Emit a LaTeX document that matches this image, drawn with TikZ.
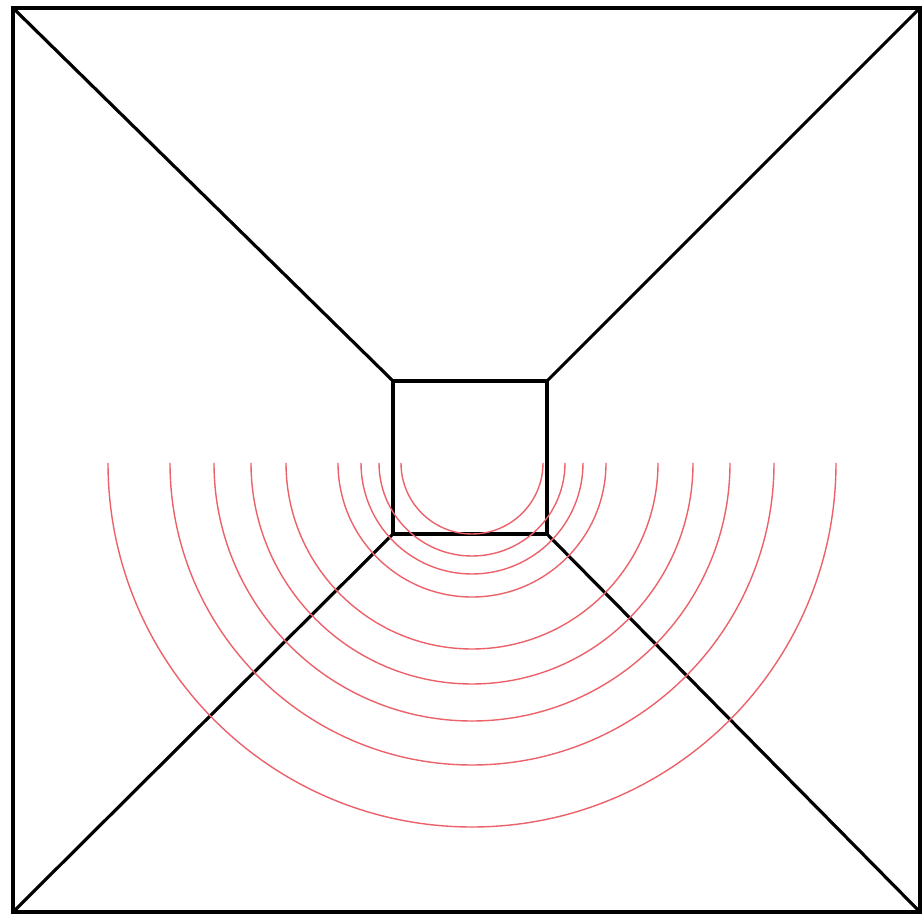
\documentclass[tikz,border=0pt]{standalone}
\usepackage{tikz}
\definecolor{waveRed}{RGB}{232,70,80}
\tikzset{
  frameline/.style={line width=2.1pt, black, line join=miter},
  edgeline/.style={line width=1.8pt, black},
  wave/.style={line width=0.8pt, waveRed!85},
}

\begin{document}
\begin{tikzpicture}[x=0.02cm,y=0.02cm]
  \useasboundingbox (0,0) rectangle (923,920);

  % outer and inner squares
  \coordinate (oTL) at (13,912);  \coordinate (oTR) at (920,912);
  \coordinate (oBL) at (13,8);    \coordinate (oBR) at (920,8);
  \coordinate (iTL) at (393,539); \coordinate (iTR) at (547,539);
  \coordinate (iBL) at (393,386); \coordinate (iBR) at (547,386);
  \draw[frameline] (oTL) -- (oTR) -- (oBR) -- (oBL) -- cycle;
  \draw[frameline] (iTL) -- (iTR) -- (iBR) -- (iBL) -- cycle;

  % corner edges
  \foreach \c in {TL,TR,BL,BR}
    \draw[edgeline] (o\c) -- (i\c);

  % wave fronts
  \coordinate (src) at (472,457);
  \foreach \r in {71,93,111,134,186,221,258,302,364}
    \draw[wave] ([xshift=-\r*0.02cm]src) arc[start angle=180, end angle=360, radius=\r];
\end{tikzpicture}
\end{document}
